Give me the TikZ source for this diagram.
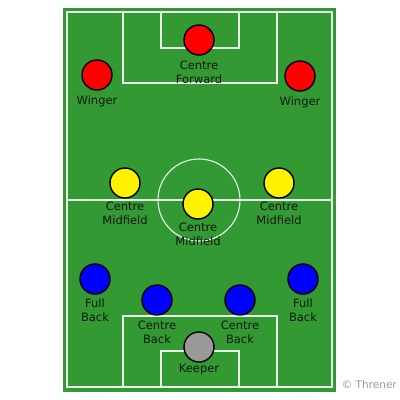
\documentclass[tikz,border=0pt]{standalone}
\usepackage{fontspec}
\setmainfont{DejaVu Sans}
\usetikzlibrary{positioning}
\definecolor{pitch}{RGB}{51,153,51}
\definecolor{pline}{RGB}{235,245,235}
\definecolor{keepergray}{RGB}{153,153,153}
\definecolor{labeltext}{RGB}{15,25,15}
\begin{document}
\begin{tikzpicture}[x=1pt,y=-1pt,
  player/.style={circle,draw=black,line width=1.4pt,minimum size=30pt,inner sep=0pt},
  fwd/.style={player,fill=red},
  midp/.style={player,fill=yellow},
  defp/.style={player,fill=blue},
  gkp/.style={player,fill=keepergray},
  lbl/.style={font=\fontsize{11.5}{14}\selectfont,align=center,inner sep=0pt,anchor=north,text=labeltext},
  pitchline/.style={draw=pline,line width=1.1pt}]
\useasboundingbox (0,0) rectangle (400,400);
\fill[white] (0,0) rectangle (400,400);
\fill[pitch] (63,8) rectangle (336,392);
% markings
\draw[pitchline] (67,12) rectangle (332,387);
\draw[pitchline] (123,12) rectangle (277,83);
\draw[pitchline] (161,12) rectangle (239,48);
\draw[pitchline] (123,387) rectangle (277,316);
\draw[pitchline] (161,387) rectangle (239,351);
\draw[pitchline] (67,200) -- (332,200);
\draw[pitchline] (199,200) circle[radius=41];
% players
\node[fwd] (cf) at (199,40) {};
\node[fwd] (lw) at (97,75) {};
\node[fwd] (rw) at (300,76) {};
\node[midp] (lcm) at (125,183) {};
\node[midp] (rcm) at (279,183) {};
\node[midp] (ccm) at (198,204) {};
\node[defp] (lfb) at (95,279) {};
\node[defp] (rfb) at (303,279) {};
\node[defp] (lcb) at (157,300) {};
\node[defp] (rcb) at (240,300) {};
\node[gkp] (gk) at (199,347) {};
% labels
\node[lbl,below=5.5pt of cf] (cfl) {Centre\\Forward};
\node[lbl,below=4.5pt of lw] (lwl) {Winger};
\node[lbl,below=4.5pt of rw] (rwl) {Winger};
\node[lbl,below=3.5pt of lcm] (lcml) {Centre\\Midfield};
\node[lbl,below=3.5pt of rcm] (rcml) {Centre\\Midfield};
\node[lbl,below=3.5pt of ccm] (ccml) {Centre\\Midfield};
\node[lbl,below=3.5pt of lfb] (lfbl) {Full\\Back};
\node[lbl,below=3.5pt of rfb] (rfbl) {Full\\Back};
\node[lbl,below=5.5pt of lcb] (lcbl) {Centre\\Back};
\node[lbl,below=5.5pt of rcb] (rcbl) {Centre\\Back};
\node[lbl,below=1.5pt of gk] (gkl) {Keeper};
\node[font=\fontsize{10.5}{12}\selectfont,text=keepergray,inner sep=0pt,anchor=east] (cr) at (397,384.5) {© Threner};
\end{tikzpicture}
\end{document}
